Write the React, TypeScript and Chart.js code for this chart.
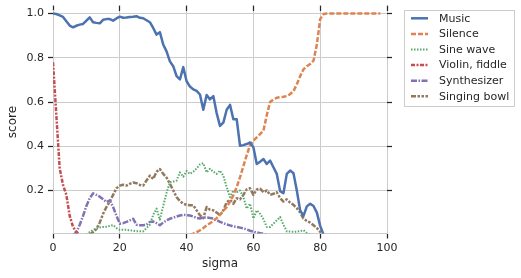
import React, { useEffect, useRef } from "react";
import { Chart, registerables } from "chart.js";

Chart.register(...registerables);

const FONT = "DejaVu Sans";
const TEXT = "#262626";
const GRID = "#cccccc";

const sigma = [
  0, 1, 2, 3, 4, 5, 6, 7, 8, 9, 10, 11, 12, 13, 14, 15, 16, 17, 18, 19,
  20, 21, 22, 23, 24, 25, 26, 27, 28, 29, 30, 31, 32, 33, 34, 35, 36, 37, 38, 39,
  40, 41, 42, 43, 44, 45, 46, 47, 48, 49, 50, 51, 52, 53, 54, 55, 56, 57, 58, 59,
  60, 61, 62, 63, 64, 65, 66, 67, 68, 69, 70, 71, 72, 73, 74, 75, 76, 77, 78, 79,
  80, 81, 82, 83, 84, 85, 86, 87, 88, 89, 90, 91, 92, 93, 94, 95, 96, 97, 98,
];

const xTicks = [0, 20, 40, 60, 80, 100];
const yTicks = [0.2, 0.4, 0.6, 0.8, 1.0];

const music = [
  1.0, 0.998, 0.992, 0.985, 0.965, 0.946, 0.938, 0.945, 0.95, 0.953,
  0.968, 0.983, 0.961, 0.958, 0.956, 0.972, 0.975, 0.975, 0.968, 0.978,
  0.986, 0.981, 0.982, 0.985, 0.986, 0.988, 0.981, 0.979, 0.97, 0.961,
  0.935, 0.905, 0.916, 0.86, 0.829, 0.784, 0.762, 0.717, 0.702, 0.758,
  0.694, 0.67, 0.657, 0.65, 0.634, 0.565, 0.632, 0.612, 0.627, 0.55,
  0.492, 0.507, 0.565, 0.587, 0.522, 0.522, 0.402, 0.405, 0.41, 0.417,
  0.395, 0.32, 0.33, 0.342, 0.32, 0.335, 0.305, 0.275, 0.197, 0.188,
  0.275, 0.29, 0.278, 0.2, 0.11, 0.085, 0.128, 0.14, 0.13, 0.1,
  0.04, 0.0, null, null, null, null, null, null, null, null,
  null, null, null, null, null, null, null, null, null,
];

const silence = [
  null, null, null, null, null, null, null, null, null, null,
  null, null, null, null, null, null, null, null, null, null,
  null, null, null, null, null, null, null, null, null, null,
  null, null, null, null, null, null, null, null, null, null,
  null, 0.0, 0.005, 0.012, 0.02, 0.03, 0.042, 0.052, 0.062, 0.075,
  0.09, 0.108, 0.125, 0.15, 0.178, 0.215, 0.26, 0.31, 0.36, 0.405,
  0.425, 0.44, 0.455, 0.47, 0.54, 0.6, 0.612, 0.619, 0.622, 0.624,
  0.627, 0.636, 0.649, 0.68, 0.717, 0.748, 0.762, 0.772, 0.787, 0.86,
  0.975, 0.998, 1.0, 1.0, 1.0, 1.0, 1.0, 1.0, 1.0, 1.0,
  1.0, 1.0, 1.0, 1.0, 1.0, 1.0, 1.0, 1.0, 1.0,
];

const sineWave = [
  null, null, null, null, null, null, null, null, null, null,
  0.0, 0.012, 0.022, 0.028, 0.033, 0.035, 0.036, 0.04, 0.043, 0.03,
  0.022, 0.022, 0.022, 0.02, 0.018, 0.016, 0.016, 0.015, 0.03, 0.045,
  0.09, 0.118, 0.068, 0.13, 0.19, 0.237, 0.24, 0.245, 0.282, 0.262,
  0.288, 0.275, 0.285, 0.3, 0.318, 0.323, 0.282, 0.298, 0.285, 0.275,
  0.29, 0.267, 0.215, 0.17, 0.2, 0.192, 0.2, 0.17, 0.118, 0.14,
  0.073, 0.11, 0.095, 0.07, 0.035, 0.035, 0.05, 0.065, 0.08, 0.045,
  0.015, 0.014, 0.013, 0.014, 0.016, 0.02, 0.008, 0.0, null, null,
  null, null, null, null, null, null, null, null, null, null,
  null, null, null, null, null, null, null, null, null,
];

const violin = [
  0.78, 0.54, 0.3, 0.225, 0.18, 0.085, 0.035, 0.012, 0.0, null,
  null, null, null, null, null, null, null, null, null, null,
  null, null, null, null, null, null, null, null, null, null,
  null, null, null, null, null, null, null, null, null, null,
  null, null, null, null, null, null, null, null, null, null,
  null, null, null, null, null, null, null, null, null, null,
  null, null, null, null, null, null, null, null, null, null,
  null, null, null, null, null, null, null, null, null, null,
  null, null, null, null, null, null, null, null, null, null,
  null, null, null, null, null, null, null, null, null,
];

const synthesizer = [
  null, null, null, null, null, null, 0.0, 0.01, 0.045, 0.085,
  0.13, 0.165, 0.187, 0.18, 0.172, 0.16, 0.148, 0.155, 0.125, 0.085,
  0.05, 0.052, 0.058, 0.065, 0.072, 0.045, 0.043, 0.043, 0.045, 0.058,
  0.06, 0.052, 0.043, 0.055, 0.065, 0.072, 0.078, 0.082, 0.087, 0.09,
  0.088, 0.087, 0.082, 0.076, 0.073, 0.078, 0.078, 0.076, 0.073, 0.066,
  0.058, 0.052, 0.046, 0.042, 0.037, 0.035, 0.032, 0.029, 0.024, 0.018,
  0.014, 0.01, 0.007, 0.004, 0.0, null, null, null, null, null,
  null, null, null, null, null, null, null, null, null, null,
  null, null, null, null, null, null, null, null, null, null,
  null, null, null, null, null, null, null, null, null,
];

const singingBowl = [
  null, null, null, null, null, null, null, null, null, null,
  null, 0.0, 0.012, 0.025, 0.055, 0.095, 0.125, 0.15, 0.18, 0.21,
  0.222, 0.226, 0.222, 0.23, 0.236, 0.233, 0.225, 0.222, 0.245, 0.267,
  0.252, 0.285, 0.297, 0.275, 0.258, 0.23, 0.2, 0.17, 0.152, 0.14,
  0.135, 0.133, 0.133, 0.11, 0.088, 0.075, 0.125, 0.113, 0.11, 0.1,
  0.088, 0.11, 0.147, 0.158, 0.14, 0.165, 0.16, 0.18, 0.205, 0.21,
  0.18, 0.205, 0.208, 0.192, 0.2, 0.18, 0.185, 0.192, 0.165, 0.15,
  0.16, 0.145, 0.135, 0.12, 0.1, 0.073, 0.062, 0.055, 0.043, 0.03,
  0.013, 0.0, null, null, null, null, null, null, null, null,
  null, null, null, null, null, null, null, null, null,
];

const seriesNames = ["Music", "Silence", "Sine wave", "Violin, fiddle", "Synthesizer", "Singing bowl"];
const seriesValues = [music, silence, sineWave, violin, synthesizer, singingBowl];
const seriesColors = ["#4C72B0", "#DD8452", "#55A868", "#C44E52", "#8172B3", "#937860"];
const seriesDashes: number[][] = [[], [5, 2], [1.5, 1.5], [4, 1.5, 2, 1.5], [6, 1.5, 1.5, 1.5], [5, 1.5, 2.5, 1.5, 2.5, 1.5]];
const seriesWidths = [2.5, 2.5, 2, 2.5, 2.5, 2.5];

const legendPlugin = {
  id: "boxLegend",
  afterDraw(chart: any) {
    const ctx = chart.ctx;
    ctx.save();
    const bx = 404.5, by = 10.5, bw = 110, bh = 96;
    ctx.fillStyle = "rgba(255,255,255,0.8)";
    ctx.fillRect(bx, by, bw, bh);
    ctx.strokeStyle = GRID;
    ctx.lineWidth = 1;
    ctx.strokeRect(bx, by, bw, bh);
    ctx.font = `11px "${FONT}"`;
    ctx.textBaseline = "middle";
    ctx.textAlign = "left";
    seriesNames.forEach((name, i) => {
      const y = 18.3 + i * 15.6;
      ctx.beginPath();
      ctx.strokeStyle = seriesColors[i];
      ctx.lineWidth = seriesWidths[i];
      ctx.setLineDash(seriesDashes[i]);
      ctx.lineCap = "butt";
      ctx.moveTo(411, y);
      ctx.lineTo(428, y);
      ctx.stroke();
      ctx.setLineDash([]);
      ctx.fillStyle = TEXT;
      ctx.fillText(name, 439, y + 0.5);
    });
    ctx.restore();
  },
};

export default function App() {
  const ref = useRef<HTMLCanvasElement | null>(null);
  useEffect(() => {
    document.body.style.margin = "0";
    const canvas = ref.current;
    if (!canvas) return;
    const datasets = seriesNames.map((name, i) => ({
      label: name,
      data: sigma.map((s, j) => ({ x: s, y: seriesValues[i][j] })),
      borderColor: seriesColors[i],
      backgroundColor: seriesColors[i],
      borderWidth: seriesWidths[i],
      borderDash: seriesDashes[i],
      borderCapStyle: "butt",
      borderJoinStyle: "round",
      pointRadius: 0,
      tension: 0,
      spanGaps: false,
      clip: 0,
      fill: false,
    }));
    const tickFont = { family: FONT, size: 11 };
    const chart = new Chart(canvas, {
      type: "line",
      data: { datasets } as any,
      plugins: [legendPlugin],
      options: {
        animation: false,
        responsive: false,
        devicePixelRatio: 1,
        layout: { padding: { left: 0, right: 128, top: 0, bottom: 0 } },
        plugins: { legend: { display: false }, tooltip: { enabled: false } },
        scales: {
          x: {
            type: "linear",
            position: "bottom",
            min: 0,
            max: 100,
            afterBuildTicks: (s: any) => { s.ticks = xTicks.map((v) => ({ value: v })); },
            afterFit: (s: any) => { s.height = 44.5; },
            grid: { color: GRID, lineWidth: 1, tickColor: TEXT, tickLength: 5, tickWidth: 1.25 },
            border: { display: true, color: GRID, width: 1 },
            ticks: { color: TEXT, font: tickFont, padding: 3, maxRotation: 0, callback: (v: any) => String(v) },
            title: { display: true, text: "sigma", color: TEXT, font: { family: FONT, size: 12 }, padding: { top: 0, bottom: 7 } },
          },
          x2: {
            type: "linear",
            position: "top",
            min: 0,
            max: 100,
            afterBuildTicks: (s: any) => { s.ticks = xTicks.map((v) => ({ value: v })); },
            afterFit: (s: any) => { s.height = 9; },
            grid: { drawOnChartArea: false, tickColor: TEXT, tickLength: 5, tickWidth: 1.25 },
            border: { display: false },
            ticks: { display: false },
          },
          y: {
            type: "linear",
            position: "left",
            min: 0.0054,
            max: 1.0135,
            afterBuildTicks: (s: any) => { s.ticks = yTicks.map((v) => ({ value: v })); },
            afterFit: (s: any) => { s.width = 53; },
            grid: { color: GRID, lineWidth: 1, tickColor: TEXT, tickLength: 5, tickWidth: 1.25 },
            border: { display: true, color: GRID, width: 1 },
            ticks: { color: TEXT, font: tickFont, padding: 4, callback: (v: any) => Number(v).toFixed(1) },
            title: { display: true, text: "score", color: TEXT, font: { family: FONT, size: 12 }, padding: { top: 6, bottom: 0 } },
          },
          y2: {
            type: "linear",
            position: "right",
            min: 0.0054,
            max: 1.0135,
            afterBuildTicks: (s: any) => { s.ticks = yTicks.map((v) => ({ value: v })); },
            afterFit: (s: any) => { s.width = 6; },
            grid: { drawOnChartArea: false, tickColor: TEXT, tickLength: 5, tickWidth: 1.25 },
            border: { display: false },
            ticks: { display: false },
          },
        },
      } as any,
    });
    return () => chart.destroy();
  }, []);
  return (
    <div style={{ position: "fixed", left: 0, top: 0, width: 521, height: 278, background: "#fff" }}>
      <canvas ref={ref} width={521} height={278} style={{ display: "block", width: 521, height: 278 }} />
    </div>
  );
}
